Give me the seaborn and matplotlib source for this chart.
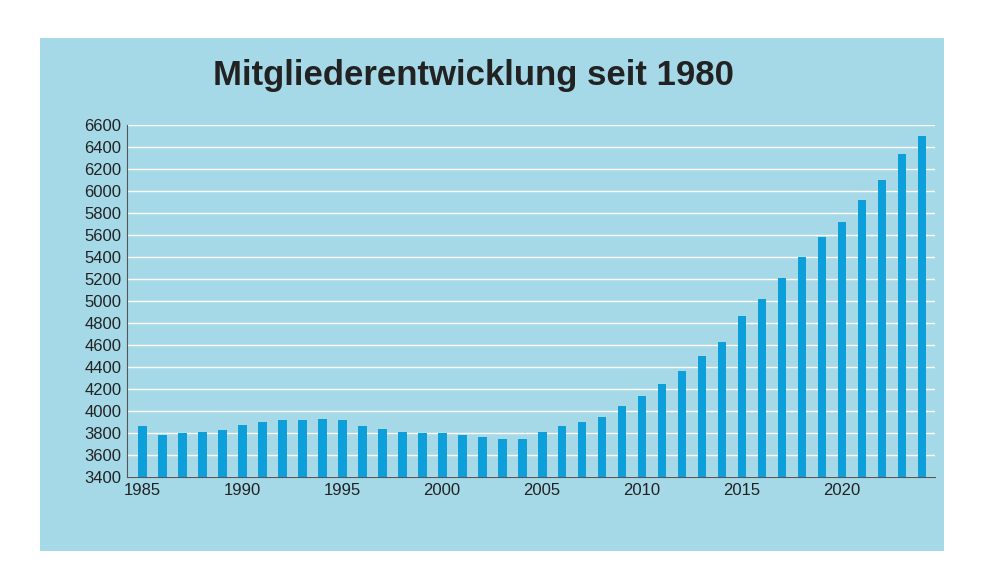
import matplotlib
matplotlib.use("Agg")
import matplotlib.pyplot as plt
import seaborn as sns
import pandas as pd

plt.rcParams["font.family"] = "Liberation Sans"

years = list(range(1985, 2025))
members = [3860, 3780, 3800, 3810, 3830, 3870, 3900, 3920, 3920, 3930,
           3920, 3860, 3840, 3810, 3800, 3800, 3780, 3760, 3750, 3750,
           3810, 3860, 3900, 3950, 4050, 4140, 4250, 4360, 4500, 4630,
           4860, 5020, 5210, 5400, 5580, 5720, 5920, 6100, 6340, 6500]
yticks = list(range(3400, 6601, 200))
xticks = [1985, 1990, 1995, 2000, 2005, 2010, 2015, 2020]

panel = "#a6d9e8"
bar_color = "#0c9fd9"

df = pd.DataFrame({"year": years, "members": members})

fig = plt.figure(figsize=(9.84, 5.86), dpi=100)
fig.patch.set_facecolor("white")

# light blue background panel
bg = fig.add_axes([40 / 984, 1 - 551 / 586, 904 / 984, 513 / 586], zorder=0)
bg.set_facecolor(panel)
bg.set_xticks([])
bg.set_yticks([])
for s in bg.spines.values():
    s.set_visible(False)

ax = fig.add_axes([127 / 984, 1 - 477 / 586, 808 / 984, 352 / 586], zorder=1)
ax.set_facecolor(panel)
sns.barplot(data=df, x="year", y="members", native_scale=True, color=bar_color,
            saturation=1, width=0.45, ax=ax, zorder=3)
ax.set_ylim(3400, 6600)
ax.set_xlim(1984.25, 2024.65)
ax.set_yticks(yticks)
ax.set_xticks(xticks)
ax.set_xticklabels([str(x) for x in xticks])
ax.grid(axis="y", color="white", linewidth=1, zorder=0)
ax.set_axisbelow(True)
for s in ["top", "right"]:
    ax.spines[s].set_visible(False)
ax.spines["left"].set_color("#555555")
ax.spines["bottom"].set_color("#555555")
ax.tick_params(axis="both", labelsize=12, colors="#222222", length=0, pad=4)
ax.set_xlabel("")
ax.set_ylabel("")

fig.text(473 / 984, 1 - 76 / 586, "Mitgliederentwicklung seit 1980",
         ha="center", va="center", fontsize=25, fontweight="bold", color="#222222")

fig.savefig("out.png", dpi=100, facecolor="white")
